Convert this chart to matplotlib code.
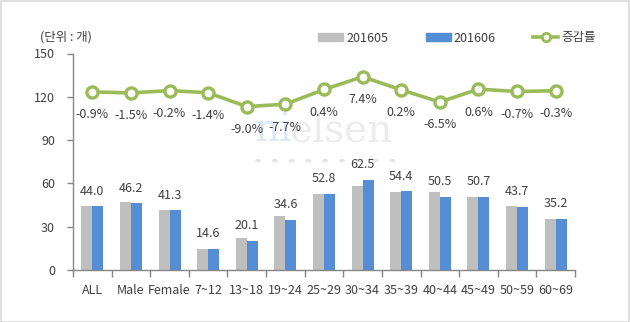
import matplotlib
matplotlib.use("Agg")
import matplotlib.pyplot as plt
from matplotlib.patches import Rectangle
from matplotlib.lines import Line2D
import numpy as np

plt.rcParams['font.family'] = ['Noto Sans CJK KR', 'DejaVu Sans']

categories = ["ALL", "Male", "Female", "7~12", "13~18", "19~24", "25~29",
              "30~34", "35~39", "40~44", "45~49", "50~59", "60~69"]
may_2016 = [44.4, 46.9, 41.4, 14.8, 22.1, 37.5, 52.6, 58.2, 54.3, 54.0, 50.4, 44.0, 35.3]
jun_2016 = [44.0, 46.2, 41.3, 14.6, 20.1, 34.6, 52.8, 62.5, 54.4, 50.5, 50.7, 43.7, 35.2]
growth = [-0.9, -1.5, -0.2, -1.4, -9.0, -7.7, 0.4, 7.4, 0.2, -6.5, 0.6, -0.7, -0.3]
yticks = [0, 30, 60, 90, 120, 150]

GRAY = "#bfbfbf"
BLUE = "#558ed5"
GREEN = "#9bbb59"
TXT = "#404040"
AX = "#868686"
FS = 9

fig = plt.figure(figsize=(6.30, 3.22), dpi=100)
fig.patches.append(Rectangle((0.0008, 0.0015), 0.9984, 0.994, transform=fig.transFigure,
                             fill=False, edgecolor="#d9d9d9", linewidth=1.2))

ax = fig.add_axes([73/630, 1 - 270/322, (575-73)/630, (270-53.5)/322])
x = np.arange(len(categories))
w = 0.285
ax.bar(x - w/2, may_2016, width=w, color=GRAY, zorder=2)
ax.bar(x + w/2, jun_2016, width=w, color=BLUE, zorder=2)
ax.set_xlim(-0.5, len(categories) - 0.5)
ax.set_ylim(0, 150)
ax.set_yticks(yticks)
ax.set_yticklabels([str(t) for t in yticks], fontsize=FS, color=TXT)
ax.set_xticks(x)
ax.set_xticklabels(categories, fontsize=FS, color=TXT)
ax.set_xticks(np.arange(len(categories) + 1) - 0.5, minor=True)
ax.tick_params(axis='x', which='major', length=0, pad=10)
ax.tick_params(axis='x', which='minor', length=5, color=AX, width=1)
ax.tick_params(axis='y', length=4, color=AX, width=1, pad=9)
for s in ["top", "right"]:
    ax.spines[s].set_visible(False)
for s in ["left", "bottom"]:
    ax.spines[s].set_color(AX)
    ax.spines[s].set_linewidth(1)

for xi, v in zip(x, jun_2016):
    ax.annotate(f"{v:.1f}", (xi, v), xytext=(0, 11), textcoords="offset points",
                ha="center", va="center", fontsize=FS, color=TXT, zorder=5)

# watermark (behind everything)
ax.text(255/630, 1 - 131/322, "ni", transform=fig.transFigure, fontsize=28,
        family="DejaVu Serif", color="#dbe9f3", va="center", ha="left", zorder=0)
ax.text(289/630, 1 - 131/322, "elsen", transform=fig.transFigure, fontsize=28,
        family="DejaVu Serif", color="#ececec", va="center", ha="left", zorder=0)
for i in range(9):
    ax.add_patch(plt.Circle(((258 + i*16.8)/630, 1 - 160.7/322), 2.2/630,
                            transform=fig.transFigure, color="#e6e6e6", zorder=0))

ax2 = ax.twinx()
ax2.set_ylim(-98.9, 20.2)
ax2.axis("off")
ax2.plot(x, growth, color=GREEN, linewidth=2.6, marker="o", markersize=8,
         markerfacecolor="white", markeredgecolor=GREEN, markeredgewidth=2.4, zorder=3)
for xi, g in zip(x, growth):
    ax2.annotate(f"{g:.1f}%", (xi, g), xytext=(0, -16.5), textcoords="offset points",
                 ha="center", va="center", fontsize=FS, color=TXT)

fig.text(40/630, 1 - 37/322, "(단위 : 개)", fontsize=FS, color=TXT, ha="left", va="center")

handles = [Rectangle((0, 0), 1, 1, color=GRAY), Rectangle((0, 0), 1, 1, color=BLUE),
           Line2D([], [], color=GREEN, linewidth=2.6, marker="o", markersize=6,
                  markerfacecolor="white", markeredgecolor=GREEN, markeredgewidth=2)]
leg = fig.legend(handles, ["201605", "201606", "증감률"], loc="center left",
                 bbox_to_anchor=(318/630, 1 - 38/322), ncol=3, frameon=False,
                 fontsize=FS, handlelength=2.0, handleheight=0.55, columnspacing=3.0,
                 handletextpad=0.25, borderpad=0, borderaxespad=0)
for t in leg.get_texts():
    t.set_color(TXT)

fig.savefig("out.png", dpi=100)
